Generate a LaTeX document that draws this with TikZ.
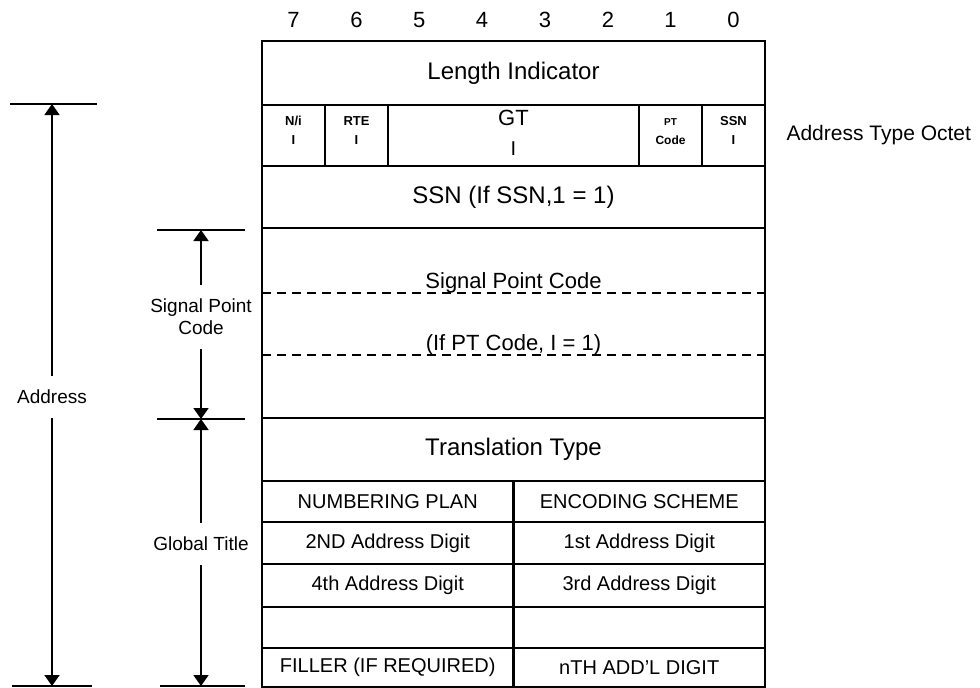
\documentclass[tikz,border=0pt]{standalone}
\usepackage{fontspec}
\setmainfont{Liberation Sans}
\usetikzlibrary{arrows.meta}

\begin{document}
\begin{tikzpicture}[x=1pt, y=-1pt,
  cell/.style={draw, line width=2.2pt, inner sep=0pt, minimum width=503pt,
    font=\fontsize{24}{28}\selectfont},
  bitcell/.style={draw, line width=2.2pt, inner sep=0pt, minimum height=61pt},
  half/.style={draw, line width=2.2pt, inner sep=0pt, minimum width=251.5pt,
    font=\fontsize{20}{24}\selectfont},
  bitno/.style={font=\fontsize{22}{26}\selectfont},
  tiny/.style={font=\fontsize{13}{19}\selectfont\bfseries, align=center, inner sep=0pt},
  spctext/.style={font=\fontsize{22}{26}\selectfont, anchor=base},
  side/.style={font=\fontsize{19}{22}\selectfont, align=center, inner xsep=3pt, inner ysep=14pt},
  dashln/.style={line width=1.8pt, dash pattern=on 9pt off 6pt},
  tick/.style={line width=2pt},
  dim/.style={-{Triangle[length=11pt, width=15pt]}, line width=1.8pt},
]
\useasboundingbox (0,0) rectangle (980,688);

% bit numbers over the octets
\node[bitno] (b7) at (293.5,20) {7};
\node[bitno] (b6) at (356.5,20) {6};
\node[bitno] (b5) at (419.3,20) {5};
\node[bitno] (b4) at (482,20) {4};
\node[bitno] (b3) at (545,20) {3};
\node[bitno] (b2) at (608,20) {2};
\node[bitno] (b1) at (670.5,20) {1};
\node[bitno] (b0) at (733.5,20) {0};

% first octets
\node[cell, minimum height=64pt] (len) at (513.5,73) {Length Indicator};

\node[bitcell, minimum width=63pt] (ni) at (293.5,135.5) {};
\node[bitcell, minimum width=63pt] (rte) at (356.5,135.5) {};
\node[bitcell, minimum width=251pt] (gt) at (513.5,135.5) {};
\node[bitcell, minimum width=63pt] (pt) at (670.5,135.5) {};
\node[bitcell, minimum width=63pt] (ssnb) at (733.5,135.5) {};
\node[tiny, yshift=5pt] (nitx) at (ni) {N/i\\I};
\node[tiny, yshift=5pt] (rtetx) at (rte) {RTE\\I};
\node[font=\fontsize{22}{24}\selectfont, align=center, inner sep=0pt, yshift=3pt] (gttx) at (gt)
  {GT\\[6pt]{\fontsize{20}{20}\selectfont I}};
\node[tiny, font=\fontsize{12}{19}\selectfont\bfseries, yshift=4pt] (pttx) at (pt)
  {{\fontsize{10}{10}\selectfont PT}\\Code};
\node[tiny, yshift=5pt] (ssnbtx) at (ssnb) {SSN\\I};
\node[font=\fontsize{21}{24}\selectfont, anchor=west] (ato) at (783,135) {Address Type Octet};

\node[cell, minimum height=62pt] (ssn) at (513.5,197) {SSN (If SSN,1 = 1)};

% signal point code block
\node[cell, minimum height=190pt] (spc) at (513.5,323) {};
\node[spctext] (spctx) at (513.5,288) {Signal Point Code};
\node[spctext] (ptif) at (513.5,350) {(If PT Code, I = 1)};
\draw[dashln] (262,293) -- (765,293);
\draw[dashln] (262,355) -- (765,355);

% global title
\node[cell, minimum height=63pt] (tt) at (513.5,449.5) {Translation Type};
\node[half, minimum height=41pt] (np) at (387.75,501.5) {NUMBERING PLAN};
\node[half, minimum height=41pt] (es) at (639.25,501.5) {ENCODING SCHEME};
\node[half, minimum height=42pt] (d2) at (387.75,543) {2ND Address Digit};
\node[half, minimum height=42pt] (d1) at (639.25,543) {1st Address Digit};
\node[half, minimum height=43pt] (d4) at (387.75,585.5) {4th Address Digit};
\node[half, minimum height=43pt] (d3) at (639.25,585.5) {3rd Address Digit};
\node[half, minimum height=41pt] (ex1) at (387.75,627.5) {};
\node[half, minimum height=41pt] (ex2) at (639.25,627.5) {};
\node[half, minimum height=39pt] (fill) at (387.75,667.5) {FILLER (IF REQUIRED)};
\node[half, minimum height=39pt] (dn) at (639.25,667.5) {nTH ADD'L DIGIT};

% extent marks on the left
\draw[tick] (10,104) -- (97,104);
\draw[tick] (12,686) -- (92,686);
\draw[tick] (157,230) -- (245,230);
\draw[tick] (157,419) -- (245,419);
\draw[tick] (160,686) -- (245,686);
\coordinate (atop) at (52,104);
\coordinate (abot) at (52,686);
\coordinate (stop) at (201,230);
\coordinate (smid) at (201,419);
\coordinate (gbot) at (201,686);

\node[side] (addr) at (52,397) {Address};
\node[side] (spcl) at (201,317) {Signal Point\\Code};
\node[side] (gtl) at (201,544) {Global Title};

\draw[dim] (addr) -- (atop);
\draw[dim] (addr) -- (abot);
\draw[dim] (spcl) -- (stop);
\draw[dim] (spcl) -- (smid);
\draw[dim] (gtl) -- (smid);
\draw[dim] (gtl) -- (gbot);

\end{tikzpicture}
\end{document}
